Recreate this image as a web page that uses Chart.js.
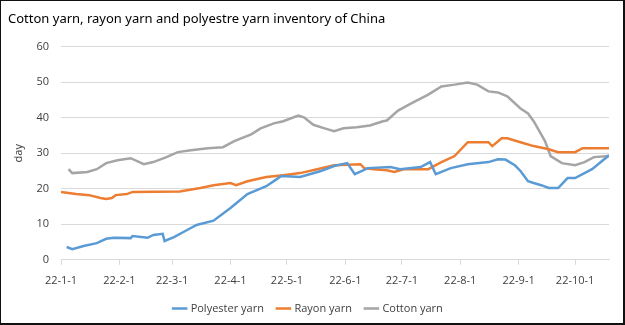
<!DOCTYPE html>
<html>
<head>
<meta charset="utf-8">
<script src="https://cdn.jsdelivr.net/npm/chart.js@4.4.0/dist/chart.umd.min.js"></script>
<style>
    body { margin: 0; background: #fff; }
    #wrap { position: relative; width: 625px; height: 325px; }
    #frame {
        position: absolute; left: 0; top: 0; width: 625px; height: 325px;
        box-sizing: border-box; border: 1px solid #111; border-right-width: 2px; border-bottom-width: 2px;
        pointer-events: none;
    }
</style>
</head>
<body>
<div id="wrap">
    <canvas id="yarnChart" width="625" height="325"></canvas>
    <div id="frame"></div>
</div>
<script>
// Achse: Tage ab 22-1-1
const tickDays = [0, 31, 59, 90, 120, 151, 181, 212, 243, 273];
const tickLabels = ['22-1-1', '22-2-1', '22-3-1', '22-4-1', '22-5-1', '22-6-1', '22-7-1', '22-8-1', '22-9-1', '22-10-1'];

// Polyester yarn
const polyDays = [3, 6, 12, 19, 24, 28, 37, 38, 46, 49, 54, 55, 60, 66, 72, 81, 90, 99, 109, 114, 117, 127, 138, 145, 152, 156, 163, 175, 180, 191, 196, 199, 207, 216, 227, 232, 236, 241, 244, 248, 251, 255, 259, 264, 269, 273, 282, 291];
const polyValues = [3.6, 3.0, 3.9, 4.7, 5.9, 6.2, 6.1, 6.7, 6.2, 7.0, 7.3, 5.3, 6.4, 8.1, 9.8, 11.0, 14.6, 18.5, 20.7, 22.5, 23.6, 23.3, 25.0, 26.4, 27.2, 24.1, 25.8, 26.1, 25.5, 26.1, 27.5, 24.1, 25.8, 26.9, 27.5, 28.3, 28.2, 26.6, 25.0, 22.1, 21.6, 21.0, 20.2, 20.2, 23.0, 23.0, 25.5, 29.4];

// Rayon yarn
const rayonDays = [0, 8, 15, 21, 24, 27, 29, 35, 38, 63, 74, 81, 90, 93, 99, 109, 118, 127, 136, 145, 159, 161, 166, 173, 177, 182, 195, 202, 209, 216, 227, 229, 234, 237, 244, 251, 259, 264, 273, 277, 291];
const rayonValues = [19.1, 18.5, 18.2, 17.4, 17.1, 17.4, 18.2, 18.5, 19.1, 19.2, 20.2, 21.0, 21.6, 21.0, 22.1, 23.3, 23.8, 24.4, 25.5, 26.6, 26.9, 25.8, 25.5, 25.2, 24.7, 25.5, 25.5, 27.5, 29.2, 33.1, 33.1, 32.0, 34.2, 34.2, 33.1, 32.0, 31.1, 30.3, 30.3, 31.4, 31.4];

// Cotton yarn
const cottonDays = [4, 6, 14, 19, 24, 30, 37, 44, 49, 56, 62, 69, 78, 86, 92, 101, 106, 113, 118, 126, 129, 134, 140, 145, 150, 157, 164, 171, 173, 179, 186, 195, 202, 209, 216, 221, 227, 232, 237, 244, 248, 251, 257, 260, 266, 273, 278, 283, 291];
const cottonValues = [25.5, 24.4, 24.7, 25.5, 27.2, 28.0, 28.6, 26.9, 27.5, 28.9, 30.3, 30.8, 31.4, 31.7, 33.4, 35.3, 37.0, 38.4, 39.0, 40.6, 40.1, 38.0, 37.0, 36.2, 37.0, 37.3, 37.8, 39.0, 39.2, 42.0, 44.0, 46.5, 48.8, 49.3, 49.9, 49.3, 47.4, 47.1, 46.0, 42.6, 41.2, 39.0, 33.4, 29.2, 27.2, 26.6, 27.5, 28.9, 29.2];

function toPoints(days, values) {
    return days.map((d, i) => ({ x: d, y: values[i] }));
}

const baseFont = "'Open Sans', 'Noto Sans', sans-serif";

function makeSeries(label, color, days, values) {
    return {
        label: label,
        data: toPoints(days, values),
        borderColor: color,
        backgroundColor: color,
        borderWidth: 2.5,
        pointRadius: 0,
        tension: 0,
        fill: false
    };
}

new Chart(document.getElementById('yarnChart'), {
    type: 'line',
    data: {
        datasets: [
            makeSeries('Polyester yarn', '#5b9bd5', polyDays, polyValues),
            makeSeries('Rayon yarn', '#ed7d31', rayonDays, rayonValues),
            makeSeries('Cotton yarn', '#a5a5a5', cottonDays, cottonValues)
        ]
    },
    options: {
        responsive: false,
        animation: false,
        layout: { padding: { left: 8, right: 16, top: 4, bottom: 1 } },
        plugins: {
            title: {
                display: true,
                text: 'Cotton yarn, rayon yarn and polyestre yarn inventory of China',
                align: 'start',
                color: '#000',
                font: { family: "'Noto Sans', sans-serif", size: 13, weight: 'normal' },
                padding: { top: 7, bottom: 20 }
            },
            legend: {
                position: 'bottom',
                labels: {
                    usePointStyle: true,
                    pointStyle: 'line',
                    boxWidth: 21,
                    color: '#404040',
                    font: { family: baseFont, size: 11 },
                    padding: 14
                }
            },
            tooltip: { enabled: false }
        },
        scales: {
            x: {
                type: 'linear',
                min: 0,
                max: 291,
                afterBuildTicks: function(scale) {
                    scale.ticks = tickDays.map(d => ({ value: d }));
                },
                ticks: {
                    autoSkip: false,
                    maxRotation: 0,
                    color: '#404040',
                    font: { family: baseFont, size: 11 },
                    padding: 9.5,
                    callback: function(value) {
                        const i = tickDays.indexOf(value);
                        return i >= 0 ? tickLabels[i] : '';
                    }
                },
                grid: { drawOnChartArea: false, tickLength: 5, color: '#d9d9d9' },
                border: { color: '#d9d9d9' },
                afterFit: function(scale) { scale.height = scale.height - 8; }
            },
            y: {
                min: 0,
                max: 60,
                ticks: {
                    stepSize: 10,
                    color: '#404040',
                    font: { family: baseFont, size: 11 },
                    padding: 12
                },
                title: {
                    display: true,
                    text: 'day',
                    color: '#404040',
                    font: { family: baseFont, size: 11 }
                },
                grid: { color: '#d9d9d9', drawTicks: false },
                border: { display: false },
                afterFit: function(scale) { scale.width = 53; }
            }
        }
    }
});
</script>
</body>
</html>
